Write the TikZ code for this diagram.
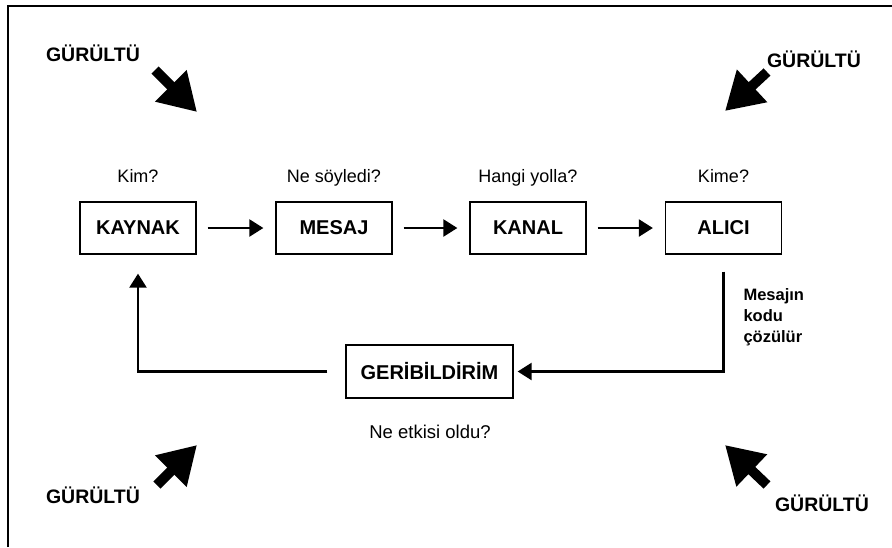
\documentclass[tikz,border=0pt]{standalone}
\usepackage{fontspec}
\setmainfont{Liberation Sans}
\usetikzlibrary{arrows.meta}

\begin{document}
\begin{tikzpicture}[x=1pt, y=-1pt,
        box/.style={draw, line width=1.3pt, minimum width=116pt, minimum height=52pt,
            font=\fontsize{20}{22}\selectfont\bfseries},
        ask/.style={font=\fontsize{18}{21}\selectfont, anchor=base},
        noisetext/.style={font=\fontsize{19.5}{22}\selectfont\bfseries},
        flow/.style={line width=2.4pt, -{Triangle[length=14pt, width=17pt]}},
        noise/.style={line width=10pt, -{Triangle[length=37pt, width=42pt]}}]
    \useasboundingbox (0,0) rectangle (892,547);
    \draw[line width=1.5pt] (8,547) -- (8,6) -- (892,6);

    \node[box] (kaynak) at (138,228) {KAYNAK};
    \node[box] (mesaj) at (334,228) {MESAJ};
    \node[box] (kanal) at (528,228) {KANAL};
    \node[box] (alici) at (723.5,228) {ALICI};
    \node[box, minimum width=167pt, minimum height=53pt] (geri) at (429.5,371.5) {GERİBİLDİRİM};

    \node[ask] (kim) at (138,182) {Kim?};
    \node[ask] (ne) at (334,182) {Ne söyledi?};
    \node[ask] (hangi) at (528,182) {Hangi yolla?};
    \node[ask] (kime) at (723.5,182) {Kime?};
    \node[font=\fontsize{18.5}{21}\selectfont] (etki) at (430,432) {Ne etkisi oldu?};
    \node[font=\fontsize{16.5}{21}\selectfont\bfseries, align=left, anchor=north west]
        (kod) at (740,285) {Mesajın\\kodu\\çözülür};

    \draw[flow, shorten <=11pt, shorten >=12pt] (kaynak) -- (mesaj);
    \draw[flow, shorten <=11pt, shorten >=12pt] (mesaj) -- (kanal);
    \draw[flow, shorten <=11pt, shorten >=12pt] (kanal) -- (alici);
    \draw[flow, shorten <=17pt, shorten >=4pt] (alici.south) |- (geri.east);
    \draw[flow, shorten <=18pt, shorten >=19pt] (geri.west) -| (kaynak.south);

    \node[noisetext] (g1) at (93,53) {GÜRÜLTÜ};
    \node[noisetext] (g2) at (814,59) {GÜRÜLTÜ};
    \node[noisetext] (g3) at (93,495) {GÜRÜLTÜ};
    \node[noisetext] (g4) at (822,503) {GÜRÜLTÜ};

    \coordinate (t1) at (155,70);
    \coordinate (h1) at (197,112);
    \coordinate (t2) at (767,72);
    \coordinate (h2) at (725,111);
    \coordinate (t3) at (157,485);
    \coordinate (h3) at (197,445);
    \coordinate (t4) at (767,485);
    \coordinate (h4) at (725,445);
    \draw[noise] (t1) -- (h1);
    \draw[noise] (t2) -- (h2);
    \draw[noise] (t3) -- (h3);
    \draw[noise] (t4) -- (h4);
\end{tikzpicture}
\end{document}
